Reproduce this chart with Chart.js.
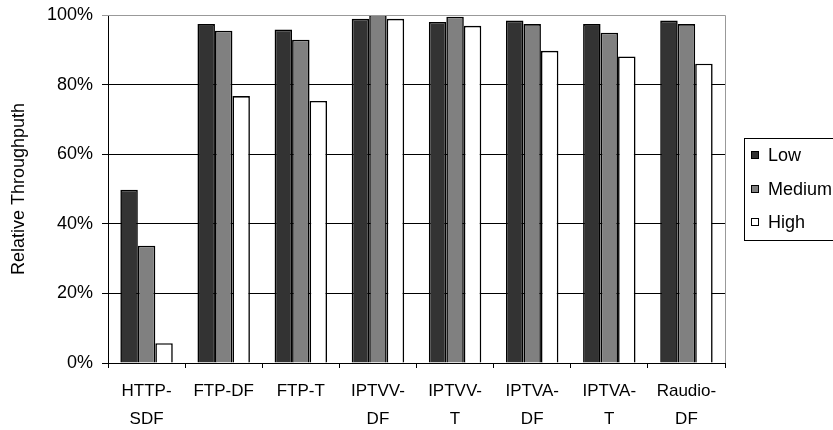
<!DOCTYPE html>
<html>
<head>
<meta charset="utf-8">
<script src="https://cdn.jsdelivr.net/npm/chart.js@4"></script>
<style>
  html, body { margin: 0; padding: 0; background: #fff; }
  #wrap { width: 833px; height: 430px; }
</style>
</head>
<body>
<div id="wrap"><canvas id="throughputChart" width="833" height="430"></canvas></div>
<script>
// categories (multi-line labels as drawn under the axis)
const categories = [
  ["HTTP-", "SDF"], ["FTP-DF"], ["FTP-T"], ["IPTVV-", "DF"],
  ["IPTVV-", "T"], ["IPTVA-", "DF"], ["IPTVA-", "T"], ["Raudio-", "DF"]
]

// relative throughput in percent
const lowValues    = [49.8, 97.4, 95.8, 98.9, 98.0, 98.4, 97.4, 98.4]
const mediumValues = [33.7, 95.5, 92.9, 100,  99.5, 97.4, 94.9, 97.4]
const highValues   = [5.7,  76.7, 75.3, 98.9, 96.9, 89.7, 88.1, 86.0]

const seriesNames  = ["Low", "Medium", "High"]
const seriesColors = ["#333333", "#808080", "#ffffff"]

const fontFamily = "'Liberation Sans', Arial, sans-serif"

// frame: grey top/right border + boxed legend on the right
const framePlugin = {
  id: "frame",
  afterDraw(chart) {
    const ctx = chart.ctx
    const a = chart.chartArea
    ctx.save()
    ctx.strokeStyle = "#999999"
    ctx.lineWidth = 1
    ctx.beginPath()
    ctx.moveTo(a.left, a.top + 0.5)
    ctx.lineTo(a.right + 0.5, a.top + 0.5)
    ctx.lineTo(a.right + 0.5, a.bottom)
    ctx.stroke()

    // legend
    ctx.strokeStyle = "#000"
    ctx.strokeRect(744.5, 138.5, 120, 102)
    ctx.font = "18px " + fontFamily
    ctx.textBaseline = "middle"
    ctx.textAlign = "left"
    const rows = [155, 189, 222]
    chart.data.datasets.forEach((ds, i) => {
      ctx.fillStyle = ds.backgroundColor
      ctx.fillRect(751, rows[i] - 4, 8, 8)
      ctx.strokeRect(751.5, rows[i] - 3.5, 7, 7)
      ctx.fillStyle = "#000"
      ctx.fillText(ds.label, 768, rows[i] + 1)
    })
    ctx.restore()
  }
}

const seriesData = [lowValues, mediumValues, highValues]

new Chart(document.querySelector("#throughputChart"), {
  type: "bar",
  data: {
    labels: categories,
    datasets: seriesNames.map((name, i) => ({
      label: name,
      data: seriesData[i],
      backgroundColor: seriesColors[i],
      borderColor: "#000",
      borderWidth: 1.6,
      categoryPercentage: 0.68,
      barPercentage: 1
    }))
  },
  options: {
    responsive: false,
    animation: false,
    layout: { padding: { left: 0, right: 108, top: 15, bottom: 0 } },
    plugins: {
      legend: { display: false },
      tooltip: { enabled: false }
    },
    scales: {
      x: {
        grid: {
          offset: true,
          drawOnChartArea: false,
          drawTicks: true,
          tickLength: 5,
          color: "#000"
        },
        border: { color: "#000", width: 1 },
        ticks: {
          color: "#000",
          padding: 9,
          maxRotation: 0,
          autoSkip: false,
          font: { family: fontFamily, size: 17, lineHeight: 1.65 }
        },
        afterFit(scale) {
          scale.height = 67
          scale.paddingLeft = 0
          scale.paddingRight = 0
        }
      },
      y: {
        min: 0,
        max: 100,
        ticks: {
          stepSize: 20,
          color: "#000",
          padding: 9,
          font: { family: fontFamily, size: 18 },
          callback: v => v + "%"
        },
        grid: {
          color: ctx => (ctx.tick && ctx.tick.value === 100 ? "#999999" : "#000"),
          lineWidth: 1,
          tickLength: 6
        },
        border: { color: "#000", width: 1 },
        title: {
          display: true,
          text: "Relative Throughputh",
          color: "#000",
          padding: { top: 8, bottom: 0 },
          font: { family: fontFamily, size: 18 }
        },
        afterFit(scale) {
          scale.width = 108
          scale.paddingTop = 0
          scale.paddingBottom = 0
        }
      }
    }
  },
  plugins: [framePlugin]
})
</script>
</body>
</html>
